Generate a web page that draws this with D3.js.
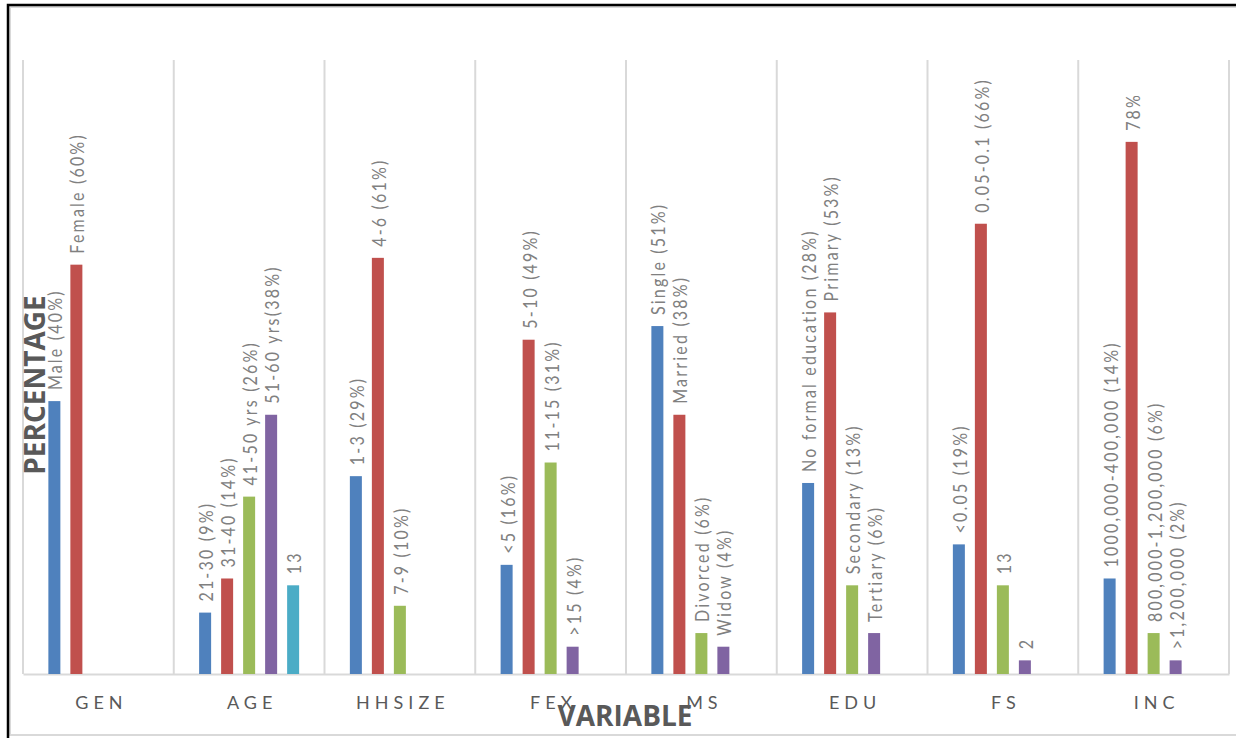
<!DOCTYPE html>
<html>
<head>
<meta charset="utf-8">
<script src="https://cdn.jsdelivr.net/npm/d3@7"></script>
<style>
  body { margin: 0; background: #fff; }
  svg { display: block; }
  .lbl { font-family: Lato, "Open Sans", sans-serif; font-size: 16px; fill: #808080; letter-spacing: 2.2px; }
  .cat { font-family: Lato, "Open Sans", sans-serif; font-size: 18px; fill: #595959; letter-spacing: 5px; }
  .title { font-family: "Liberation Sans Narrow", "Open Sans", sans-serif; font-weight: bold; fill: #595959; }
</style>
</head>
<body>
<div class="chart"></div>
<script>
// categories along the x axis
var categories = ["GEN", "AGE", "HHSIZE", "FEX", "MS", "EDU", "FS", "INC"];

// series values (percent), one array per colour, null where no bar
var series1 = [40, 9, 29, 16, 51, 28, 19, 14];
var series2 = [60, 14, 61, 49, 38, 53, 66, 78];
var series3 = [null, 26, 10, 31, 6, 13, 13, 6];
var series4 = [null, 38, null, 4, 4, 6, 2, 2];
var series5 = [null, 13, null, null, null, null, null, null];

// data labels per series
var labels1 = ["Male (40%)", "21-30 (9%)", "1-3 (29%)", "<5 (16%)", "Single (51%)", "No formal education (28%)", "<0.05 (19%)", "1000,000-400,000 (14%)"];
var labels2 = ["Female (60%)", "31-40 (14%)", "4-6 (61%)", "5-10 (49%)", "Married (38%)", "Primary (53%)", "0.05-0.1 (66%)", "78%"];
var labels3 = ["", "41-50 yrs (26%)", "7-9 (10%)", "11-15 (31%)", "Divorced (6%)", "Secondary (13%)", "13", "800,000-1,200,000 (6%)"];
var labels4 = ["", "51-60 yrs(38%)", "", ">15 (4%)", "Widow (4%)", "Tertiary (6%)", "2", ">1,200,000 (2%)"];
var labels5 = ["", "13", "", "", "", "", "", ""];

var colors = ["#4F81BD", "#C0504D", "#9BBB59", "#8064A2", "#4BACC6"];

var W = 1236, H = 738;
var margin = {top: 60, right: 7, bottom: 64, left: 23},
    width = W - margin.left - margin.right,
    height = H - margin.top - margin.bottom;

var svg = d3.select(".chart").append("svg")
    .attr("width", W)
    .attr("height", H);

// outer frame
svg.append("rect")
    .attr("x", 10).attr("y", 7)
    .attr("width", W).attr("height", 728)
    .attr("fill", "none").attr("stroke", "#d9d9d9").attr("stroke-width", 2);
svg.append("path")
    .attr("d", "M8," + H + "V5H" + W)
    .attr("fill", "none").attr("stroke", "#000").attr("stroke-width", 2.5);

var g = svg.append("g")
    .attr("transform", "translate(" + margin.left + "," + margin.top + ")");

var x0 = d3.scaleBand().domain(categories).range([0, width]);
var x1 = d3.scaleBand().domain([0, 1, 2, 3, 4]).range([0, x0.bandwidth()])
    .paddingInner(0.4545).paddingOuter(1.153);
var y = d3.scaleLinear().domain([0, 90]).range([height, 0]);

// category separators
var seps = categories.map(function(c) { return x0(c); }).concat([width]);
g.selectAll(".sep")
    .data(seps)
  .enter().append("line")
    .attr("class", "sep")
    .attr("x1", function(d) { return d; })
    .attr("x2", function(d) { return d; })
    .attr("y1", 0).attr("y2", height)
    .attr("stroke", "#d9d9d9").attr("stroke-width", 2);

// x axis
var xAxis = g.append("g")
    .attr("class", "x axis")
    .attr("transform", "translate(0," + height + ")")
    .call(d3.axisBottom(x0).tickSize(0).tickPadding(22));
xAxis.select(".domain").attr("stroke", "#d9d9d9").attr("stroke-width", 2);
xAxis.selectAll("text").attr("class", "cat").attr("font-size", null).attr("font-family", null)
    .attr("dx", "3px");

var allSeries = [series1, series2, series3, series4, series5];
var allLabels = [labels1, labels2, labels3, labels4, labels5];

var bars = [];
allSeries.forEach(function(s, si) {
  s.forEach(function(v, ci) {
    if (v != null) bars.push({cat: categories[ci], s: si, value: v, label: allLabels[si][ci]});
  });
});

g.selectAll(".bar")
    .data(bars)
  .enter().append("rect")
    .attr("class", "bar")
    .attr("x", function(d) { return x0(d.cat) + x1(d.s); })
    .attr("width", x1.bandwidth())
    .attr("y", function(d) { return y(d.value); })
    .attr("height", function(d) { return height - y(d.value); })
    .attr("fill", function(d) { return colors[d.s]; });

// labels stretched sideways a bit, like the reference
g.selectAll(".lbl")
    .data(bars)
  .enter().append("text")
    .attr("class", "lbl")
    .attr("dominant-baseline", "central")
    .attr("transform", function(d) {
      var cx = x0(d.cat) + x1(d.s) + x1.bandwidth() / 2 + 1;
      return "translate(" + cx + "," + (y(d.value) - 11) + ") scale(1.15,1) rotate(-90)";
    })
    .text(function(d) { return d.label; });

// axis titles
svg.append("text")
    .attr("class", "title")
    .attr("text-anchor", "middle")
    .attr("font-size", 28)
    .attr("transform", "translate(45,385) rotate(-90)")
    .text("PERCENTAGE");

svg.append("text")
    .attr("class", "title")
    .attr("text-anchor", "middle")
    .attr("font-size", 28)
    .attr("x", 625).attr("y", 726)
    .text("VARIABLE");
</script>
</body>
</html>
